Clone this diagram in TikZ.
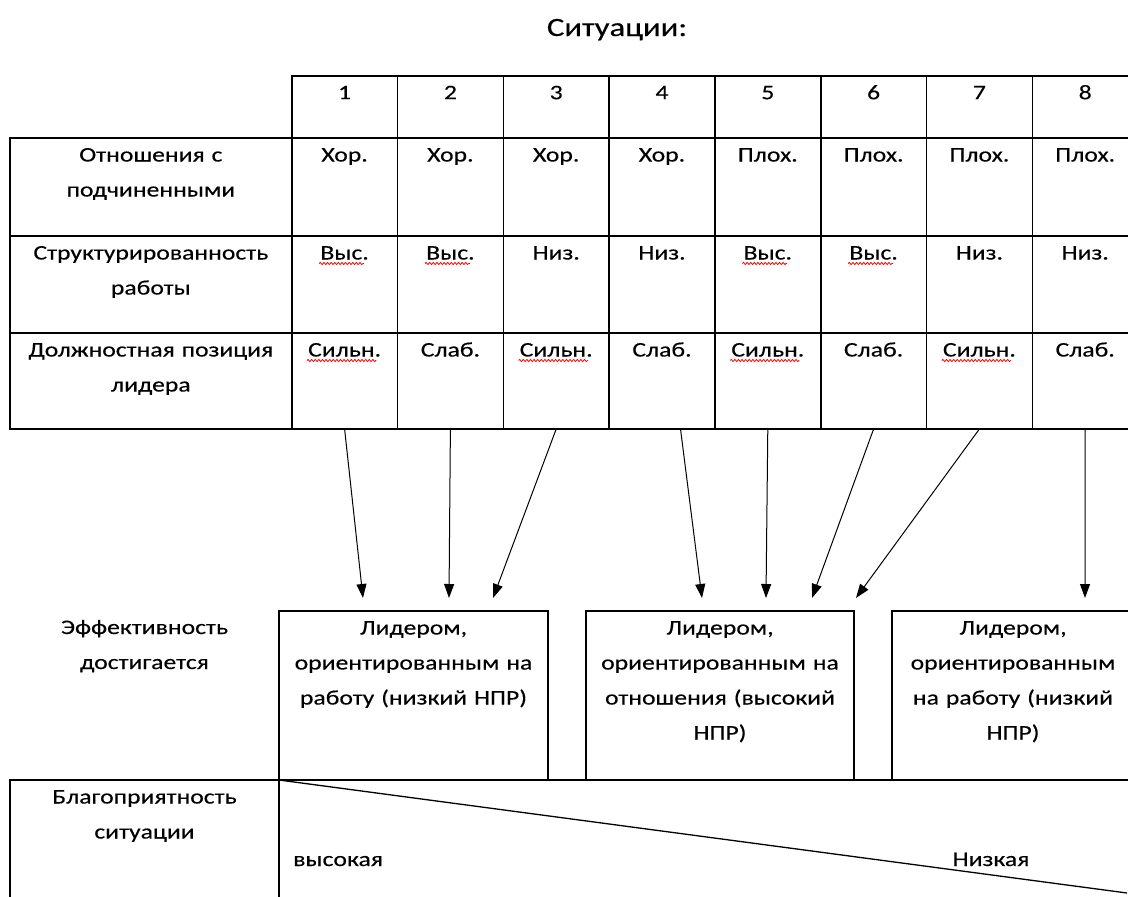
\documentclass[tikz,border=0pt]{standalone}
\usepackage{fontspec}
\setmainfont[FakeStretch=1.24, FakeBold=0.3]{Carlito}
\usepackage{tikz}
\usetikzlibrary{arrows.meta,positioning,calc,decorations.pathmorphing}

\begin{document}
\begin{tikzpicture}[x=1pt, y=-1pt,
    cell/.style={draw, line width=1.6pt, anchor=north west, inner sep=0pt, outer sep=0pt,
      minimum width=105.8pt},
    txt/.style={anchor=base, yshift=-23.5pt, align=center, inner sep=0pt,
      font=\fontsize{20.7}{35}\selectfont},
    rowtxt/.style={txt, text width=270pt},
    boxtxt/.style={txt, text width=262pt},
    plain/.style={inner sep=0pt, font=\fontsize{20.7}{35}\selectfont},
    arrow/.style={-{Triangle[length=14pt,width=10pt]}, line width=1pt},
    spell/.style={draw=red, line width=0.8pt, decorate,
      decoration={snake, amplitude=1.1pt, segment length=3.6pt}}
  ]
    \useasboundingbox (0,0) rectangle (1128,897);
    \node[anchor=base, font=\fontsize{26.4}{32}\selectfont] (title) at (617,36) {Ситуации:};

    % table of situations
    \node[cell, minimum width=281.7pt, minimum height=98pt,
      label={[rowtxt]north:Отношения с\\подчиненными}] (relh) at (10,138) {};
    \node[cell, minimum width=281.7pt, minimum height=97pt,
      label={[rowtxt]north:Структурированность\\работы}] (strh) at (10,236) {};
    \node[cell, minimum width=281.7pt, minimum height=96pt,
      label={[rowtxt]north:Должностная позиция\\лидера}] (posh) at (10,333) {};
    \foreach \i/\r/\s/\p in {1/Хор./Выс./Сильн., 2/Хор./Выс./Слаб., 3/Хор./Низ./Сильн., 4/Хор./Низ./Слаб.,
        5/Плох./Выс./Сильн., 6/Плох./Выс./Слаб., 7/Плох./Низ./Сильн., 8/Плох./Низ./Слаб.}{
      \node[cell, minimum height=62.3pt, label={[txt]north:\i}] (h\i) at ({291.7+105.8*(\i-1)},75.7) {};
      \node[cell, minimum height=98pt, label={[txt]north:\r}] (rel\i) at ({291.7+105.8*(\i-1)},138) {};
      \node[cell, minimum height=97pt, label={[txt, name=sl\i]north:\s}] (str\i) at ({291.7+105.8*(\i-1)},236) {};
      \node[cell, minimum height=96pt, label={[txt, name=pl\i]north:\p}] (pos\i) at ({291.7+105.8*(\i-1)},333) {};
    }
    % spell-check marks
    \foreach \n in {sl1,sl2,sl5,sl6,pl1,pl3,pl5,pl7}
      \draw[spell] ([xshift=-1pt, yshift=-4pt]\n.base west) -- ([xshift=-5pt, yshift=-4pt]\n.base east);

    % leaders
    \node[plain, text width=270pt, align=center, anchor=base] (eff) at (144.5,634) {Эффективность\\достигается};
    \node[cell, minimum width=269pt, minimum height=169pt,
      label={[boxtxt]north:Лидером,\\ориентированным на\\работу (низкий НПР)}] (b1) at (279,611) {};
    \node[cell, minimum width=268pt, minimum height=169pt,
      label={[boxtxt]north:Лидером,\\ориентированным на\\отношения (высокий\\НПР)}] (b2) at (586,611) {};
    \node[cell, minimum width=242pt, minimum height=169pt,
      label={[boxtxt]north:Лидером,\\ориентированным\\на работу (низкий\\НПР)}] (b3) at (892,611) {};

    \draw[arrow] (pos1.south) -- ([xshift=-50.5pt, yshift=13pt]b1.north);
    \draw[arrow] (pos2.south) -- ([xshift=35.5pt, yshift=13pt]b1.north);
    \draw[arrow] (pos3.south) -- ([xshift=79.5pt, yshift=13pt]b1.north);
    \draw[arrow] ([xshift=18.5pt]pos4.south) -- ([xshift=-18pt, yshift=13pt]b2.north);
    \draw[arrow] (pos5.south) -- ([xshift=46pt, yshift=13pt]b2.north);
    \draw[arrow] (pos6.south) -- ([xshift=92pt, yshift=13pt]b2.north);
    \draw[arrow] (pos7.south) -- ([xshift=136pt, yshift=13pt]b2.north);
    \draw[arrow] (pos8.south) -- ([xshift=72pt, yshift=13pt]b3.north);

    % favourableness
    \node[cell, minimum width=269pt, minimum height=130pt,
      label={[rowtxt]north:Благоприятность\\ситуации}] (fav) at (10,780) {};
    \node[cell, minimum width=861pt, minimum height=130pt] (scale) at (279,780) {};
    \coordinate (low) at (1127,893);
    \draw[line width=1.3pt] (scale.north west) -- (low);
    \node[plain, anchor=base west] (high) at (293,866) {высокая};
    \node[plain, anchor=base] (lowtxt) at (991,866) {Низкая};
\end{tikzpicture}
\end{document}
